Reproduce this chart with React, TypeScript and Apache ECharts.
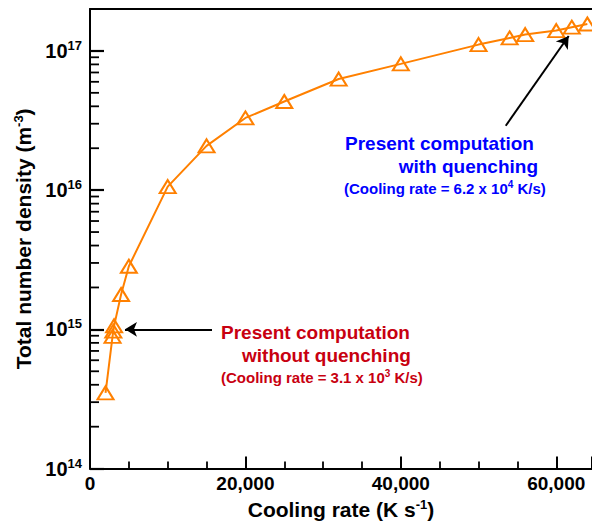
import React, { useEffect, useRef } from "react";
import * as echarts from "echarts";

const coolingRate = [2000, 2900, 3000, 3100, 4000, 5000, 10000, 15000, 20000, 25000, 32000, 40000, 50000, 54000, 56000, 60000, 62000, 64000];
const density = [3.5e14, 8.9e14, 9.7e14, 1.06e15, 1.78e15, 2.84e15, 1.06e16, 2.08e16, 3.3e16, 4.33e16, 6.28e16, 8.07e16, 1.11e17, 1.24e17, 1.31e17, 1.4e17, 1.48e17, 1.56e17];
const decades = [14, 15, 16];
const minorMultipliers = [2, 3, 4, 5, 6, 7, 8, 9];
const arrowWithout = [[15700, 1e15], [4500, 1e15]];
const arrowWith = [[53500, 2.9e16], [61600, 1.28e17]];

const FONT = "'Liberation Sans', Arial, sans-serif";
const ORANGE = "#ff8000";
const RED = "#c80010";
const BLUE = "#0000ff";

export default function App() {
  const ref = useRef<HTMLDivElement>(null);
  useEffect(() => {
    if (!ref.current) return;
    const chart = echarts.init(ref.current, null, { renderer: "svg" });
    const minorData: number[][] = [];
    decades.forEach((d) => minorMultipliers.forEach((k) => minorData.push([0, k * Math.pow(10, d)])));

    const textEl = (x: number, y: number, text: string, fill: string, align: string, size: number, rich?: any) => ({
      type: "text",
      x,
      y,
      style: {
        text,
        fill,
        align,
        verticalAlign: "middle",
        fontFamily: FONT,
        fontWeight: "bold",
        fontSize: size,
        rich,
      },
    });
    const parenRich = (fill: string) => ({
      a: { fontSize: 15, fontWeight: "bold", fontFamily: FONT, fill, color: fill, lineHeight: 18 },
      s: { fontSize: 10, fontWeight: "bold", fontFamily: FONT, fill, color: fill, lineHeight: 11, verticalAlign: "top" },
    });
    const titleRich = {
      t: { fontSize: 21, fontWeight: "bold", fontFamily: FONT, color: "#000", lineHeight: 24 },
      s: { fontSize: 13, fontWeight: "bold", fontFamily: FONT, color: "#000", lineHeight: 13, verticalAlign: "top" },
    };

    chart.setOption({
      animation: false,
      grid: { left: 90, top: 9, right: 0, bottom: 56 },
      xAxis: [
        {
          type: "value",
          min: 0,
          max: 64600,
          interval: 20000,
          name: "{t|Cooling rate (K s}{s|-1}{t|)}",
          nameLocation: "middle",
          nameGap: 23,
          nameTextStyle: { rich: titleRich },
          axisLine: { show: true, onZero: false, lineStyle: { color: "#000", width: 2 } },
          axisTick: { show: true, inside: true, length: 12, lineStyle: { color: "#000", width: 2 } },
          minorTick: { show: true, splitNumber: 4, length: 7, lineStyle: { color: "#000", width: 1.8 } },
          splitLine: { show: false },
          axisLabel: {
            margin: 5,
            color: "#000",
            fontFamily: FONT,
            fontWeight: "bold",
            fontSize: 19,
            showMaxLabel: false,
            formatter: (v: number) => (v > 60000 ? "" : v.toLocaleString("en-US")),
          },
        },
        {
          type: "value",
          position: "top",
          min: 0,
          max: 64600,
          axisLine: { show: true, onZero: false, lineStyle: { color: "#000", width: 2 } },
          axisTick: { show: false },
          axisLabel: { show: false },
          splitLine: { show: false },
        },
      ],
      yAxis: {
        type: "log",
        logBase: 10,
        min: 1e14,
        max: 2e17,
        name: "{t|Total number density (m}{s|-3}{t|)}",
        nameLocation: "middle",
        nameGap: 50,
        nameRotate: 90,
        nameTextStyle: { rich: titleRich },
        axisLine: { show: true, onZero: false, lineStyle: { color: "#000", width: 2 } },
        axisTick: { show: true, inside: true, length: 14, lineStyle: { color: "#000", width: 2.2 } },
        splitLine: { show: false },
        axisLabel: {
          margin: 8,
          showMaxLabel: false,
          formatter: (v: number) => {
            const e = Math.log10(v);
            const r = Math.round(e);
            if (Math.abs(e - r) > 1e-6) return "";
            return `{b|10}{s|${r}}`;
          },
          rich: {
            b: { fontSize: 20, fontWeight: "bold", fontFamily: FONT, color: "#000", lineHeight: 24 },
            s: { fontSize: 13, fontWeight: "bold", fontFamily: FONT, color: "#000", lineHeight: 14, verticalAlign: "top" },
          },
        },
      },
      series: [
        {
          type: "custom",
          data: minorData,
          renderItem: (params: any, api: any) => {
            const p = api.coord([api.value(0), api.value(1)]);
            return {
              type: "line",
              shape: { x1: p[0], y1: p[1], x2: p[0] + 9, y2: p[1] },
              style: { stroke: "#000", lineWidth: 1.8 },
            };
          },
        },
        {
          type: "line",
          data: coolingRate.map((x, i) => [x, density[i]]),
          symbol: "triangle",
          symbolSize: [16, 13],
          lineStyle: { color: ORANGE, width: 2 },
          itemStyle: { color: "rgba(255,255,255,0)", borderColor: ORANGE, borderWidth: 2 },
          markLine: {
            silent: true,
            symbol: ["none", "arrow"],
            symbolSize: [11, 12],
            label: { show: false },
            lineStyle: { color: "#000", width: 2, type: "solid" },
            data: [
              [{ coord: arrowWithout[0] }, { coord: arrowWithout[1] }],
              [{ coord: arrowWith[0] }, { coord: arrowWith[1] }],
            ],
          },
        },
      ],
      graphic: [
        textEl(345, 143, "Present computation", BLUE, "left", 19),
        textEl(538, 166, "with quenching", BLUE, "right", 19),
        textEl(344, 188, "{a|(Cooling rate = 6.2 x 10}{s|4}{a| K/s)}", BLUE, "left", 15, parenRich(BLUE)),
        textEl(221, 332, "Present computation", RED, "left", 19),
        textEl(242, 355, "without quenching", RED, "left", 19),
        textEl(221, 377, "{a|(Cooling rate = 3.1 x 10}{s|3}{a| K/s)}", RED, "left", 15, parenRich(RED)),
      ],
    });
    return () => chart.dispose();
  }, []);
  return <div ref={ref} style={{ position: "fixed", left: 0, top: 0, width: 592, height: 525, background: "#fff" }} />;
}
